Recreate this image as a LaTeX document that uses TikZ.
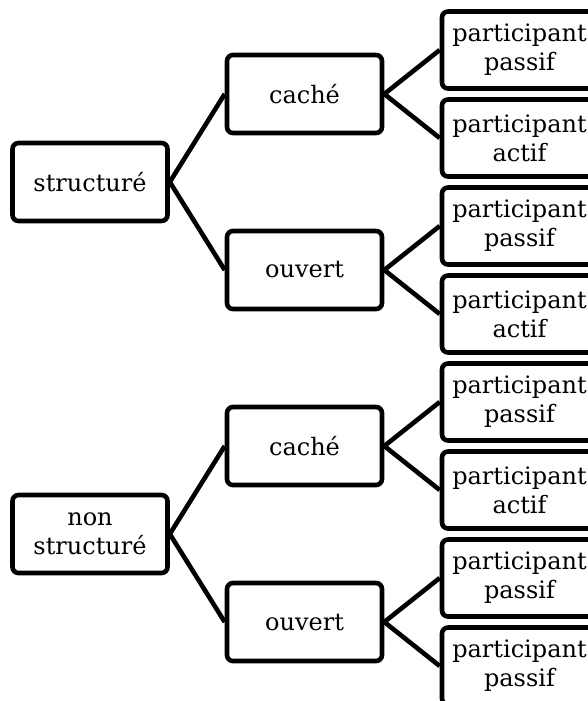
\documentclass[tikz,border=0pt]{standalone}
\usepackage{fontspec}
\setmainfont{DejaVu Serif}
\usepackage{tikz}
\usetikzlibrary{positioning}

\begin{document}
\begin{tikzpicture}[x=1pt, y=-1pt, line width=4.6pt,
    box/.style={draw=black, rounded corners=6pt, align=center, inner sep=2pt,
                minimum width=155pt, minimum height=78pt,
                font=\fontsize{24}{29}\selectfont},
    leafbox/.style={box, minimum height=77pt}]
   \useasboundingbox (0,0) rectangle (588,701);
   \clip (0,0) rectangle (588,701);
   \begin{scope}[every node/.style={box}]
    \node (s1) at (90,182) {structuré};
    \node (s2) at (90,534) {non\\structuré};
    \node (c1) at (304.5,94) {caché};
    \node (o1) at (304.5,270) {ouvert};
    \node (c2) at (304.5,446) {caché};
    \node (o2) at (304.5,622) {ouvert};
   \end{scope}
   \begin{scope}[every node/.style={leafbox}]
    \node (p1) at (519.5,50) {participant\\passif};
    \node (p2) at (519.5,138) {participant\\actif};
    \node (p3) at (519.5,226) {participant\\passif};
    \node (p4) at (519.5,314) {participant\\actif};
    \node (p5) at (519.5,402) {participant\\passif};
    \node (p6) at (519.5,490) {participant\\actif};
    \node (p7) at (519.5,578) {participant\\passif};
    \node (p8) at (519.5,666) {participant\\passif};
   \end{scope}
   \begin{scope}[every edge/.style={draw=black, line width=4.6pt}]
    \draw (s1.east) edge (c1.west);
    \draw (s1.east) edge (o1.west);
    \draw (s2.east) edge (c2.west);
    \draw (s2.east) edge (o2.west);
    \draw (c1.east) edge (p1.west);
    \draw (c1.east) edge (p2.west);
    \draw (o1.east) edge (p3.west);
    \draw (o1.east) edge (p4.west);
    \draw (c2.east) edge (p5.west);
    \draw (c2.east) edge (p6.west);
    \draw (o2.east) edge (p7.west);
    \draw (o2.east) edge (p8.west);
   \end{scope}
\end{tikzpicture}
\end{document}
